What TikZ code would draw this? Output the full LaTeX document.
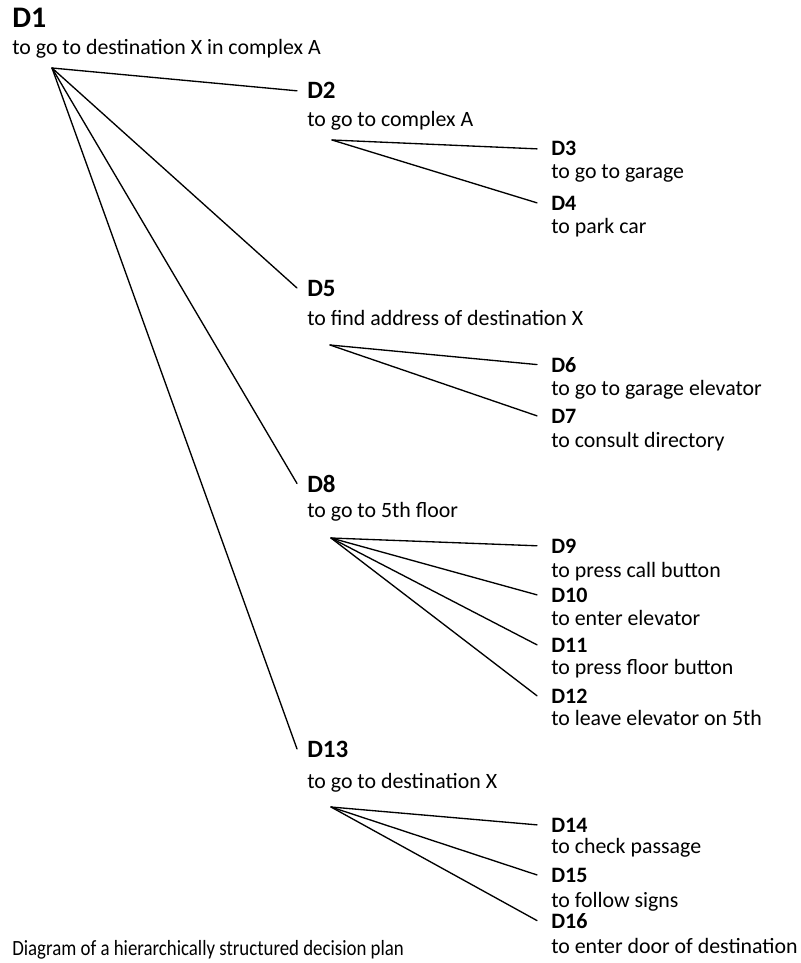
\documentclass[tikz,border=0pt]{standalone}
\usepackage{fontspec}
\setmainfont{Carlito}
\usepackage{tikz}
\tikzset{
  link/.style={draw=black, line width=1pt, line cap=round},
  toph/.style={font=\bfseries\fontsize{22.4}{26}\selectfont, anchor=base west, inner sep=0pt},
  midh/.style={font=\bfseries\fontsize{18.7}{22}\selectfont, anchor=base west, inner ysep=0pt, inner xsep=7.5pt},
  leafh/.style={font=\bfseries\fontsize{16.5}{19}\selectfont, anchor=base west, inner ysep=0pt, inner xsep=10.5pt},
  sub/.style={font=\fontsize{16.4}{19}\selectfont, anchor=base west, inner sep=0pt},
  note/.style={font=\fontsize{16.3}{19}\selectfont, anchor=base west, inner sep=0pt},
}

\begin{document}
\begin{tikzpicture}[x=0.75pt, y=-0.75pt]
  \useasboundingbox (0,0) rectangle (800,963);
  % top goal
  \node[toph] (d1) at (12,28) {D1};
  \node[sub] (s1) at (12,55) {to go to destination X in complex A};
  \coordinate (r1) at (52,68);
  % second level
  \node[midh] (d2) at (297,99) {D2};
  \node[sub] (s2) at (307,127) {to go to complex A};
  \coordinate (r2) at (332,140);
  \node[midh] (d5) at (297,296) {D5};
  \node[sub] (s5) at (307,325) {to find address of destination X};
  \coordinate (r5) at (330,345);
  \node[midh] (d8) at (297,492) {D8};
  \node[sub] (s8) at (307,517) {to go to 5th floor};
  \coordinate (r8) at (331,538);
  \node[midh] (d13) at (297,757) {D13};
  \node[sub] (s13) at (307,788) {to go to destination X};
  \coordinate (r13) at (331,807);
  % leaves
  \node[leafh] (d3) at (537,156) {D3};
  \node[sub] (s3) at (551,179) {to go to garage};
  \node[leafh] (d4) at (537,210) {D4};
  \node[sub] (s4) at (551,233) {to park car};
  \node[leafh] (d6) at (537,372) {D6};
  \node[sub] (s6) at (551,395) {to go to garage elevator};
  \node[leafh] (d7) at (537,423) {D7};
  \node[sub] (s7) at (551,447) {to consult directory};
  \node[leafh] (d9) at (537,553) {D9};
  \node[sub] (s9) at (551,577) {to press call button};
  \node[leafh] (d10) at (537,602) {D10};
  \node[sub] (s10) at (551,625) {to enter elevator};
  \node[leafh] (d11) at (537,652) {D11};
  \node[sub] (s11) at (551,674) {to press floor button};
  \node[leafh] (d12) at (537,703) {D12};
  \node[sub] (s12) at (551,725) {to leave elevator on 5th};
  \node[leafh] (d14) at (537,832) {D14};
  \node[sub] (s14) at (551,853) {to check passage};
  \node[leafh] (d15) at (537,882) {D15};
  \node[sub] (s15) at (551,907) {to follow signs};
  \node[leafh] (d16) at (537,928) {D16};
  \node[sub] (s16) at (551,953) {to enter door of destination};
  % caption
  \node[note] (cap) at (12,955) {\scalebox{0.867}[1]{Diagram of a hierarchically structured decision plan}};
  % links
  \draw[link] (r1) -- (d2.west);
  \draw[link] (r1) -- (d5.west);
  \draw[link] (r1) -- (d8.west);
  \draw[link] (r1) -- (d13.west);
  \draw[link] (r2) -- (d3.west);
  \draw[link] (r2) -- (d4.west);
  \draw[link] (r5) -- (d6.west);
  \draw[link] (r5) -- (d7.west);
  \draw[link] (r8) -- (d9.west);
  \draw[link] (r8) -- (d10.west);
  \draw[link] (r8) -- (d11.west);
  \draw[link] (r8) -- (d12.west);
  \draw[link] (r13) -- (d14.west);
  \draw[link] (r13) -- (d15.west);
  \draw[link] (r13) -- (d16.west);
\end{tikzpicture}
\end{document}
